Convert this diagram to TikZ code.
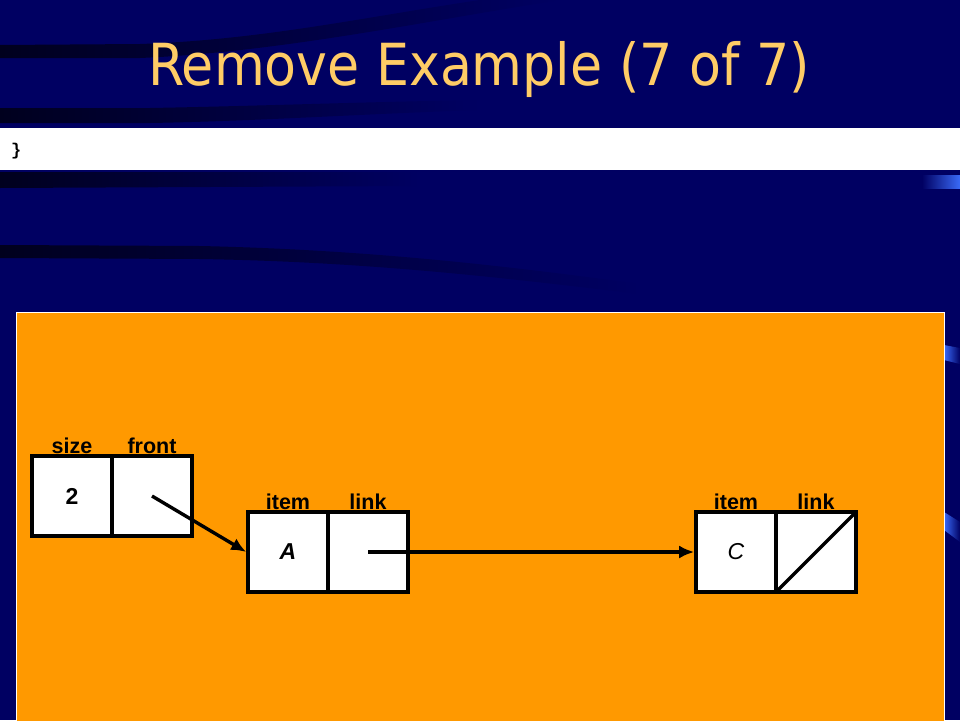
\documentclass[tikz,border=0pt]{standalone}
\usepackage{fontspec}
\setmainfont{Liberation Sans}
\newfontfamily\titlefont{DejaVu Sans Condensed}
\setmonofont{Liberation Mono}
\usetikzlibrary{arrows.meta}
\definecolor{navy}{HTML}{000062}
\definecolor{darkstreak}{HTML}{00001E}
\definecolor{hilite}{HTML}{3A6AF8}
\definecolor{titlecol}{HTML}{FFCC66}
\definecolor{orangec}{HTML}{FF9900}
\tikzset{
  cell/.style={draw=black, line width=3.6pt, fill=white, minimum size=80pt, inner sep=0pt,
    font=\fontsize{23}{23}\selectfont\bfseries},
  lab/.style={anchor=base, inner sep=0pt, font=\fontsize{21.5}{21.5}\selectfont\bfseries},
  arr/.style={line width=3.4pt, -{Latex[length=15pt,width=13pt]}},
  lnk/.style={line width=3.4pt, shorten >=1.6pt, shorten <=1.6pt}
}
\begin{document}
\begin{tikzpicture}[x=1pt,y=-1pt]
\useasboundingbox (0,0) rectangle (960,720);
\fill[navy] (0,0) rectangle (960,720);
% dark streaks
\shade[left color=darkstreak, right color=navy]
  (0,45) -- (140,44) .. controls (260,40) and (360,18) .. (480,0) -- (560,0)
  .. controls (420,22) and (280,52) .. (140,58) -- (0,58) -- cycle;
\shade[left color=darkstreak, right color=navy]
  (0,108) -- (150,108) .. controls (260,106) and (360,102) .. (480,100)
  -- (480,110) .. controls (360,114) and (260,121) .. (150,123) -- (0,123) -- cycle;
\shade[left color=darkstreak, right color=navy]
  (0,172) -- (420,172) -- (420,186) -- (0,188) -- cycle;
\shade[left color=darkstreak, right color=navy]
  (0,245) -- (200,246) .. controls (380,250) and (520,268) .. (640,284)
  -- (640,294) .. controls (520,280) and (380,262) .. (200,259) -- (0,258) -- cycle;
% blue highlights
\shade[left color=navy, right color=hilite] (922,175) rectangle (960,188);
\shade[left color=hilite, right color=navy] (944,345) -- (960,348) -- (960,364) -- (944,360) -- cycle;
\shade[left color=hilite, right color=navy] (944,512) -- (960,522) -- (960,542) -- (944,530) -- cycle;
% white code bar
\fill[white] (0,128) rectangle (960,170);
\node[anchor=base west, inner sep=0pt, font=\ttfamily\bfseries\fontsize{17}{17}\selectfont] (brace) at (11,155) {\}};
% title
\node[anchor=base, inner sep=0pt, text=titlecol, font=\titlefont\fontsize{58}{58}\selectfont] (title) at (479,85) {Remove Example (7 of 7)};
% orange panel
\draw[white, line width=1pt, fill=orangec] (16,312.5) rectangle (944.5,725);
% cells
\node[cell] (size) at (72,496) {2};
\node[cell] (front) at (152,496) {};
\node[cell] (itemA) at (288,552) {\itshape A};
\node[cell] (linkA) at (368,552) {};
\node[cell, font=\fontsize{23}{23}\selectfont\mdseries] (itemC) at (736,552) {\itshape C};
\node[cell] (linkC) at (816,552) {};
% labels
\node[lab] (lsize) at (72,453) {size};
\node[lab] (lfront) at (152,453) {front};
\node[lab] (litemA) at (288,509) {item};
\node[lab] (llinkA) at (368,509) {link};
\node[lab] (litemC) at (736,509) {item};
\node[lab] (llinkC) at (816,509) {link};
% connectors
\draw[arr] (front.center) -- (itemA.west);
\draw[arr] (linkA.center) -- (itemC.west);
\draw[lnk] (linkC.south west) -- (linkC.north east);
\end{tikzpicture}
\end{document}
